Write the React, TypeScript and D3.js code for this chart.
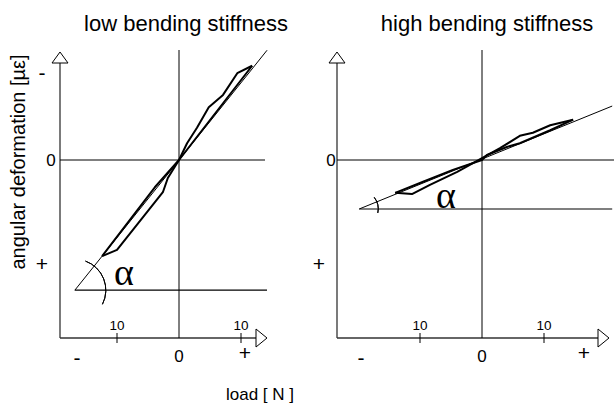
import React, { useEffect, useRef } from "react";
import * as d3 from "d3";

// load [N], angular deformation (positive = down)
const lowLoading: [number, number][] = [[-12.4, 15.5], [-3.9, 4.4], [0, 0], [11.8, -15.2]];
const lowUnloading: [number, number][] = [
  [11.8, -15.2], [9.4, -14.0], [7.1, -10.5], [4.8, -8.5], [2.9, -5.2], [1.3, -2.7],
  [0, 0], [-1.8, 2.9], [-2.6, 5.2], [-10.0, 14.5], [-12.4, 15.5]
];
const highLoading: [number, number][] = [
  [-14.0, 5.3], [-9.5, 3.5], [-4.7, 1.6], [0, 0], [0.8, -0.8], [4.0, -2.1],
  [6.1, -2.7], [11.0, -4.8], [14.7, -6.5]
];
const highUnloading: [number, number][] = [
  [14.7, -6.5], [11.0, -5.6], [8.2, -4.4], [6.1, -3.9], [2.9, -1.9], [0, -0.3],
  [-4.0, 1.9], [-8.4, 4.0], [-11.3, 5.5], [-14.0, 5.3]
];
const lowStiffness: [number, number][] = [[-16.8, 21.0], [14.2, -17.7]];
const highStiffness: [number, number][] = [[-19.8, 7.9], [21.0, -8.7]];

const titles = ["low bending stiffness", "high bending stiffness"];
const loadTicks = [-10, 10];
const xAxisTitle = "load [ N ]";
const yAxisTitle = "angular deformation [\u00b5\u03b5]";

const FONT = "'Liberation Sans', Arial, Helvetica, sans-serif";

const panels = [
  {
    title: titles[0], loading: lowLoading, unloading: lowUnloading, fit: lowStiffness,
    axisX: 60, range: [117, 241], arrowTip: 267, zeroEnd: 265, titleX: 186,
    alpha: [124, 272], arcR: 31, arcTop: 70, arcBottom: -27,
    ySigns: [["-", 42, 72], ["0", 51, 160], ["+", 42, 263]],
    xSigns: [["-", 77, 357], ["0", 179, 356], ["+", 245, 352]]
  },
  {
    title: titles[1], loading: highLoading, unloading: highUnloading, fit: highStiffness,
    axisX: 337, range: [420, 544], arrowTip: 609, zeroEnd: 614, titleX: 487,
    alpha: [446, 195], arcR: 19, arcTop: 38, arcBottom: -12,
    ySigns: [["0", 331, 160], ["+", 319, 263]],
    xSigns: [["-", 361, 357], ["0", 482, 356], ["+", 584, 352]]
  }
];

export default function App() {
  const svgRef = useRef<SVGSVGElement>(null);

  useEffect(() => {
    const svg = d3.select(svgRef.current);
    svg.selectAll("*").remove();

    const axisY = 338;
    const yTip = 52;
    const y = d3.scaleLinear().domain([-15, 15]).range([67, 253]);

    panels.forEach(p => {
      const g = svg.append("g");
      const x = d3.scaleLinear().domain([-10, 10]).range(p.range);
      const line = d3.line<[number, number]>().x(d => x(d[0])).y(d => y(d[1]));

      g.append("text")
        .attr("x", p.titleX).attr("y", 31)
        .attr("text-anchor", "middle")
        .attr("font-size", 22)
        .text(p.title);

      // axes
      g.append("line")
        .attr("x1", p.axisX).attr("x2", p.axisX)
        .attr("y1", yTip + 11).attr("y2", axisY)
        .attr("stroke", "#333").attr("stroke-width", 1.3);
      g.append("line")
        .attr("x1", p.axisX).attr("x2", p.arrowTip - 11)
        .attr("y1", axisY).attr("y2", axisY)
        .attr("stroke", "#333").attr("stroke-width", 1.3);
      g.append("path")
        .attr("d", `M${p.axisX},${yTip}L${p.axisX - 8},${yTip + 11}L${p.axisX + 8},${yTip + 11}Z`)
        .attr("fill", "#fff").attr("stroke", "#000").attr("stroke-width", 1);
      g.append("path")
        .attr("d", `M${p.arrowTip},${axisY}L${p.arrowTip - 11},${axisY - 9}L${p.arrowTip - 11},${axisY + 9}Z`)
        .attr("fill", "#fff").attr("stroke", "#000").attr("stroke-width", 1);

      // zero lines
      g.append("line")
        .attr("x1", x(0)).attr("x2", x(0))
        .attr("y1", 50).attr("y2", axisY)
        .attr("stroke", "#000").attr("stroke-width", 1);
      g.append("line")
        .attr("x1", p.axisX).attr("x2", p.zeroEnd)
        .attr("y1", y(0)).attr("y2", y(0))
        .attr("stroke", "#000").attr("stroke-width", 1);

      // ticks
      loadTicks.forEach(t => {
        g.append("line")
          .attr("x1", x(t)).attr("x2", x(t))
          .attr("y1", axisY - 5).attr("y2", axisY + 5)
          .attr("stroke", "#000").attr("stroke-width", 1);
        g.append("text")
          .attr("x", x(t)).attr("y", 330)
          .attr("text-anchor", "middle")
          .attr("font-size", 13.5)
          .text(String(Math.abs(t)));
      });

      [...p.ySigns, ...p.xSigns].forEach(([s, sx, sy]) => {
        g.append("text")
          .attr("x", sx as number).attr("y", sy as number)
          .attr("text-anchor", "middle")
          .attr("dominant-baseline", "central")
          .attr("font-size", s === "0" ? 17 : 21)
          .text(s as string);
      });

      // stiffness line + base
      const [f0, f1] = p.fit;
      g.append("path")
        .attr("d", line(p.fit))
        .attr("fill", "none").attr("stroke", "#000").attr("stroke-width", 1);
      g.append("path")
        .attr("d", line([[f0[0], f0[1]], [f1[0], f0[1]]]))
        .attr("fill", "none").attr("stroke", "#000").attr("stroke-width", 1.2);

      const arc = d3.arc<any>()
        .innerRadius(p.arcR).outerRadius(p.arcR)
        .startAngle((90 - p.arcTop) * Math.PI / 180)
        .endAngle((90 - p.arcBottom) * Math.PI / 180);
      g.append("path")
        .attr("transform", `translate(${x(f0[0])},${y(f0[1])})`)
        .attr("d", arc({}))
        .attr("fill", "none").attr("stroke", "#000").attr("stroke-width", 1);

      g.append("text")
        .attr("x", p.alpha[0]).attr("y", p.alpha[1])
        .attr("text-anchor", "middle")
        .attr("dominant-baseline", "central")
        .attr("font-family", "'Liberation Serif', 'Times New Roman', serif")
        .attr("font-size", 38)
        .text("\u03b1");

      // hysteresis loop
      [p.loading, p.unloading].forEach(d => {
        g.append("path")
          .attr("d", line(d))
          .attr("fill", "none").attr("stroke", "#000")
          .attr("stroke-width", 2).attr("stroke-linejoin", "round");
      });
    });

    svg.append("text")
      .attr("transform", "translate(25,162) rotate(-90)")
      .attr("text-anchor", "middle")
      .attr("font-size", 20)
      .text(yAxisTitle);

    svg.append("text")
      .attr("x", 260).attr("y", 400)
      .attr("text-anchor", "middle")
      .attr("font-size", 17)
      .text(xAxisTitle);
  }, []);

  return (
    <svg
      ref={svgRef}
      width={614}
      height={404}
      style={{ position: "absolute", left: 0, top: 0, background: "#fff", fontFamily: FONT }}
    />
  );
}
